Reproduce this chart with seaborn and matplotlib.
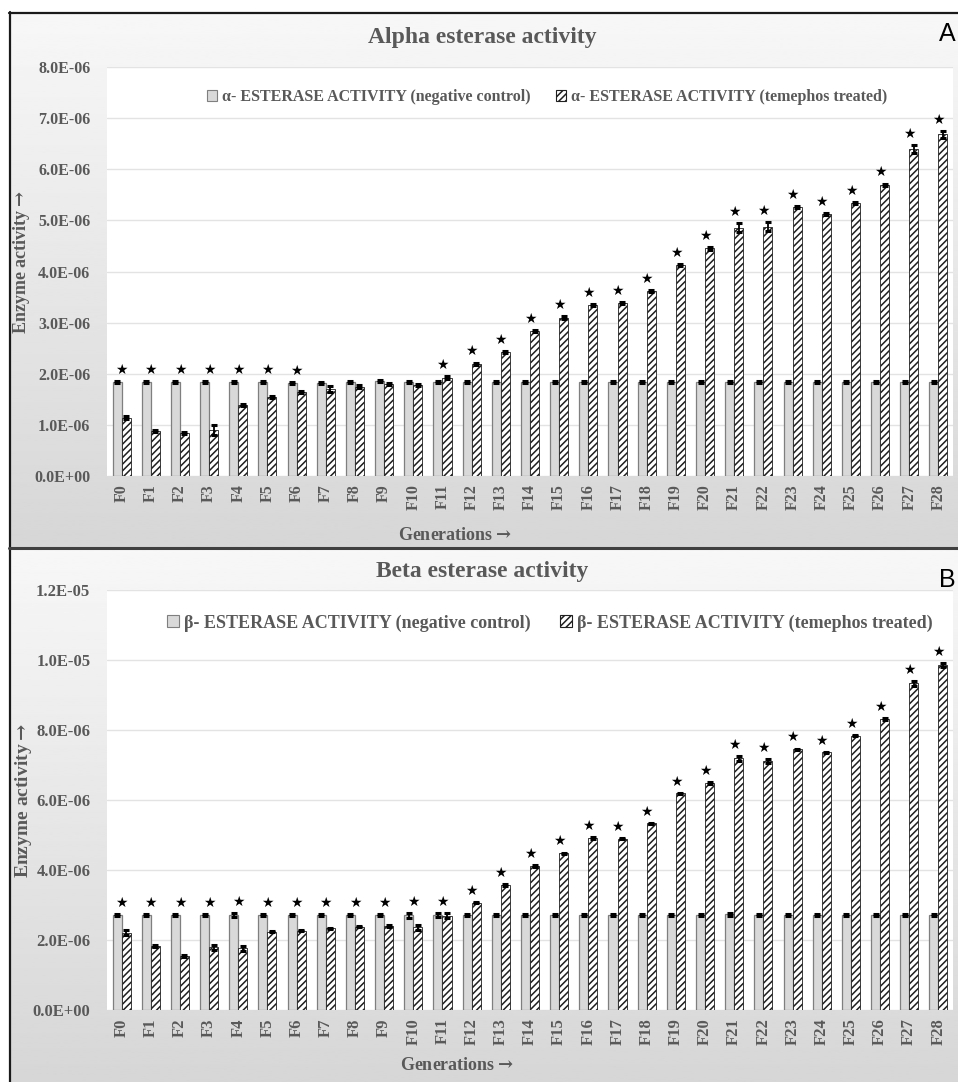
import numpy as np
import pandas as pd
import matplotlib
matplotlib.use("Agg")
import matplotlib.pyplot as plt
import seaborn as sns
from matplotlib.patches import Patch
from matplotlib.lines import Line2D
from matplotlib.ticker import FuncFormatter, MultipleLocator

# ---------------- data ----------------
generations = [f"F{i}" for i in range(29)]

alpha_control = [1.83, 1.83, 1.83, 1.83, 1.84, 1.83, 1.82, 1.82, 1.84, 1.85,
                 1.84, 1.83, 1.83, 1.84, 1.84, 1.84, 1.84, 1.84, 1.84, 1.84,
                 1.84, 1.84, 1.84, 1.84, 1.84, 1.84, 1.84, 1.84, 1.84]
alpha_treated = [1.14, 0.88, 0.85, 0.90, 1.38, 1.55, 1.65, 1.70, 1.75, 1.80,
                 1.78, 1.92, 2.20, 2.43, 2.83, 3.10, 3.35, 3.38, 3.62, 4.12,
                 4.45, 4.86, 4.88, 5.26, 5.13, 5.34, 5.70, 6.39, 6.68]
alpha_control_err = [0.02] * 29
alpha_treated_err = [0.03, 0.02, 0.02, 0.09, 0.02, 0.02, 0.02, 0.06, 0.03, 0.02,
                     0.02, 0.03, 0.02, 0.02, 0.02, 0.02, 0.02, 0.02, 0.02, 0.02,
                     0.02, 0.08, 0.08, 0.02, 0.02, 0.02, 0.02, 0.08, 0.07]
alpha_star = [1, 1, 1, 1, 1, 1, 1, 0, 0, 0, 0, 1, 1, 1, 1, 1, 1, 1, 1, 1,
              1, 1, 1, 1, 1, 1, 1, 1, 1]

beta_control = [2.71, 2.71, 2.71, 2.71, 2.71, 2.71, 2.71, 2.71, 2.71, 2.71,
                2.71, 2.72, 2.71, 2.71, 2.71, 2.71, 2.71, 2.71, 2.71, 2.71,
                2.71, 2.73, 2.71, 2.72, 2.72, 2.72, 2.72, 2.72, 2.71]
beta_treated = [2.21, 1.83, 1.54, 1.79, 1.76, 2.24, 2.27, 2.33, 2.38, 2.40,
                2.36, 2.69, 3.07, 3.57, 4.12, 4.48, 4.91, 4.90, 5.33, 6.19,
                6.49, 7.19, 7.12, 7.45, 7.36, 7.84, 8.31, 9.33, 9.86]
beta_control_err = [0.02, 0.02, 0.02, 0.02, 0.06, 0.02, 0.02, 0.02, 0.02, 0.02,
                    0.07, 0.06, 0.02, 0.02, 0.02, 0.02, 0.02, 0.02, 0.02, 0.02,
                    0.02, 0.03, 0.02, 0.02, 0.02, 0.02, 0.02, 0.02, 0.02]
beta_treated_err = [0.07, 0.02, 0.02, 0.07, 0.07, 0.02, 0.02, 0.02, 0.02, 0.02,
                    0.07, 0.07, 0.02, 0.02, 0.02, 0.02, 0.02, 0.02, 0.02, 0.02,
                    0.02, 0.07, 0.06, 0.02, 0.02, 0.02, 0.02, 0.06, 0.06]
beta_star = [1] * 29

alpha_labels = ["\u03b1- ESTERASE ACTIVITY (negative control)",
                "\u03b1- ESTERASE ACTIVITY (temephos treated)"]
beta_labels = ["\u03b2- ESTERASE ACTIVITY (negative control)",
               "\u03b2- ESTERASE ACTIVITY (temephos treated)"]

SCALE = 1e-6

# ---------------- style ----------------
sns.set_style("white")
plt.rcParams["font.family"] = ["Liberation Serif", "DejaVu Serif"]
plt.rcParams["font.weight"] = "bold"
plt.rcParams["mathtext.fontset"] = "dejavuserif"
plt.rcParams["hatch.linewidth"] = 1.1

W, H = 958, 1082
fig = plt.figure(figsize=(W / 100, H / 100), dpi=100)
fig.patch.set_facecolor("white")

TXT = "#595959"


def fx(px):
    return px / W


def fy(py):
    return 1 - py / H


# panel backgrounds (gradient)
def panel_bg(top, bottom):
    bg = fig.add_axes([fx(9), fy(bottom), 1 - fx(9), (bottom - top) / H], zorder=-10)
    grad = np.linspace(0.97, 0.84, 256).reshape(-1, 1)
    bg.imshow(grad, cmap="gray", vmin=0, vmax=1, aspect="auto", extent=[0, 1, 0, 1])
    bg.set_axis_off()


panel_bg(12, 548)
panel_bg(548, 1082)

# borders
fig.add_artist(Line2D([fx(9.5), fx(9.5)], [0, fy(12)], color="#1a1a1a", lw=1.6, transform=fig.transFigure))
fig.add_artist(Line2D([fx(9), 1], [fy(12.5), fy(12.5)], color="#1a1a1a", lw=1.6, transform=fig.transFigure))
fig.add_artist(Line2D([fx(9), 1], [fy(548), fy(548)], color="#404040", lw=2.2, transform=fig.transFigure))


def draw_panel(ax, ctrl, treat, ctrl_err, treat_err, stars, labels, ymax, ystep,
               ytick_fs, xtick_fs, legend_fs, legend_pos):
    df = pd.DataFrame({
        "Generation": generations * 2,
        "Group": [labels[0]] * len(generations) + [labels[1]] * len(generations),
        "Value": [v * SCALE for v in ctrl] + [v * SCALE for v in treat],
    })
    sns.barplot(data=df, x="Generation", y="Value", hue="Group",
                palette=["#d9d9d9", "white"], width=0.62, errorbar=None,
                legend=False, ax=ax, zorder=3)
    cont_c, cont_t = ax.containers[0], ax.containers[1]
    for b in cont_c:
        b.set_facecolor("#d9d9d9")
        b.set_edgecolor("#7f7f7f")
        b.set_linewidth(0.9)
    for b in cont_t:
        b.set_facecolor("white")
        b.set_edgecolor("#1f1f1f")
        b.set_hatch("/////")
        b.set_linewidth(0.6)

    xc = [b.get_x() + b.get_width() / 2 for b in cont_c]
    xt = [b.get_x() + b.get_width() / 2 for b in cont_t]
    ax.errorbar(xc, [v * SCALE for v in ctrl], yerr=[e * SCALE for e in ctrl_err],
                fmt="none", ecolor="black", elinewidth=1.3, capsize=2.5, capthick=2.2, zorder=4)
    ax.errorbar(xt, [v * SCALE for v in treat], yerr=[e * SCALE for e in treat_err],
                fmt="none", ecolor="black", elinewidth=1.3, capsize=2.5, capthick=2.2, zorder=4)

    for i, s in enumerate(stars):
        if s:
            top = max(ctrl[i] + ctrl_err[i], treat[i] + treat_err[i]) * SCALE
            ax.annotate("\u2605", xy=(i, top), xytext=(0, 3), textcoords="offset points",
                        ha="center", va="bottom", fontsize=10, color="black",
                        family=["DejaVu Sans"], zorder=5)

    ax.set_ylim(0, ymax * SCALE)
    ax.set_xlim(-0.5, len(generations) - 0.5)
    ax.yaxis.set_major_locator(MultipleLocator(ystep * SCALE))
    ax.yaxis.set_major_formatter(FuncFormatter(lambda v, p: f"{v:.1E}"))
    ax.grid(axis="y", color="#e3e3e3", lw=1.0, zorder=0)
    ax.set_axisbelow(True)
    for sp in ax.spines.values():
        sp.set_visible(False)
    ax.tick_params(axis="both", length=0, colors=TXT)
    ax.tick_params(axis="y", pad=12, labelsize=ytick_fs)
    ax.tick_params(axis="x", rotation=90, pad=6, labelsize=xtick_fs)
    ax.set_xlabel("")
    ax.set_ylabel("")
    ax.set_facecolor("white")

    handles = [Patch(facecolor="#d9d9d9", edgecolor="#7f7f7f", lw=0.8),
               Patch(facecolor="white", edgecolor="#1f1f1f", hatch="/////", lw=0.8)]
    leg = ax.legend(handles, labels, loc="center", ncol=2, frameon=False,
                    bbox_to_anchor=legend_pos, bbox_transform=fig.transFigure,
                    prop={"family": ["Liberation Serif", "DejaVu Serif"], "weight": "bold", "size": legend_fs},
                    handlelength=0.65, handleheight=0.65, handletextpad=0.3, columnspacing=1.6)
    for t in leg.get_texts():
        t.set_color(TXT)


# Panel A
axA = fig.add_axes([fx(107), fy(476), (953 - 107) / W, (476 - 67) / H])
draw_panel(axA, alpha_control, alpha_treated, alpha_control_err, alpha_treated_err,
           alpha_star, alpha_labels, 8, 1, 11.5, 11.5, 11.5, (fx(547), fy(97)))

# Panel B
axB = fig.add_axes([fx(107), fy(1010), (953 - 107) / W, (1010 - 590) / H])
draw_panel(axB, beta_control, beta_treated, beta_control_err, beta_treated_err,
           beta_star, beta_labels, 12, 2, 12, 12, 13, (fx(550), fy(623)))

# titles, axis labels, panel letters
fig.text(fx(482), fy(38), "Alpha esterase activity", ha="center", va="center",
         fontsize=17, color=TXT, weight="bold")
fig.text(fx(482), fy(571), "Beta esterase activity", ha="center", va="center",
         fontsize=17, color=TXT, weight="bold")
fig.text(fx(455), fy(536), "Generations$\\rightarrow$", ha="center", va="center",
         fontsize=13, color=TXT, weight="bold")
fig.text(fx(457), fy(1066), "Generations$\\rightarrow$", ha="center", va="center",
         fontsize=13, color=TXT, weight="bold")
fig.text(fx(22), fy(262), "Enzyme activity$\\rightarrow$", ha="center", va="center", rotation=90,
         fontsize=13, color=TXT, weight="bold")
fig.text(fx(24), fy(800), "Enzyme activity$\\rightarrow$", ha="center", va="center", rotation=90,
         fontsize=14, color=TXT, weight="bold")
fig.text(fx(939), fy(34), "A", ha="left", va="center", fontsize=18, color="black",
         weight="normal", family=["Liberation Sans", "DejaVu Sans"])
fig.text(fx(939), fy(580), "B", ha="left", va="center", fontsize=18, color="black",
         weight="normal", family=["Liberation Sans", "DejaVu Sans"])

fig.savefig("out.png", dpi=100, facecolor="white")
